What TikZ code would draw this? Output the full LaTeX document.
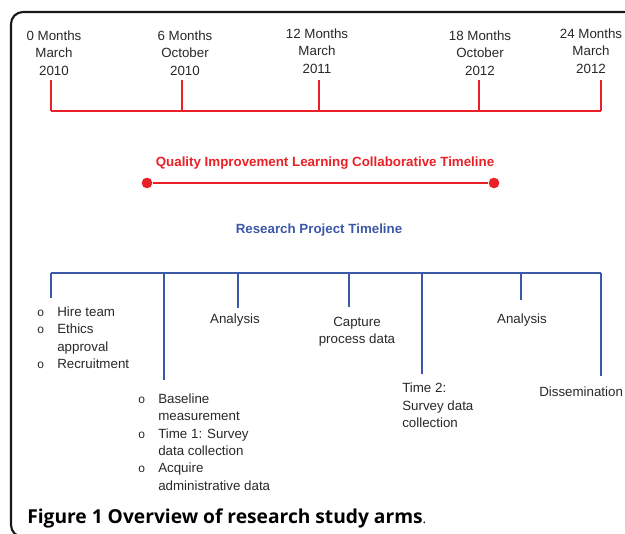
\documentclass[tikz,border=0pt]{standalone}
\usepackage{fontspec}
\setmainfont{Liberation Sans}
\newfontfamily\capfont{Open Sans}
\usepackage{tikz}
\definecolor{qired}{RGB}{234,32,39}
\definecolor{rpblue}{RGB}{60,88,168}
\definecolor{txtgray}{RGB}{40,40,40}

\newcommand{\blt}{{\fontsize{9}{9}\selectfont o}}

\begin{document}
\begin{tikzpicture}[
    x=0.75pt, y=-0.75pt,
    lbl/.style={inner sep=0pt, align=center, text=txtgray, font=\fontsize{10}{13}\selectfont},
    lst/.style={lbl, align=left, anchor=north west},
    redtick/.style={draw=qired, line width=0.9pt},
    bluetick/.style={draw=rpblue, line width=0.9pt},
    ttl/.style={inner sep=0pt, font=\bfseries\fontsize{10}{12}\selectfont},
  ]
    \clip (0,0) rectangle (625,534);
    \draw[black!90, line width=1.6pt, rounded corners=9pt] (11,12) rectangle (660,537);

    % month scale
    \foreach \x/\lx/\ly/\m/\mon/\yr in {51/54/53/0/March/2010, 182/185/53/6/October/2010,
        319/317/51/12/March/2011, 479/480/53/18/October/2012, 601/591/51/24/March/2012} {
      \node[lbl] (m\m) at (\lx,\ly) {\m\ Months\\\mon\\\yr};
      \coordinate (rt\m) at (\x,80);
    }
    \coordinate (rl) at (51,111);
    \coordinate (rr) at (601,111);
    \foreach \m in {0,6,12,18,24} \draw[redtick] (rt\m) -- (rt\m |- rl);
    \draw[qired, line width=1.8pt] (rl) -- (rr);

    % collaborative
    \node[ttl, text=qired] (qilc) at (325,163) {Quality Improvement Learning Collaborative Timeline};
    \node[circle, fill=qired, inner sep=0pt, minimum size=8pt] (qa) at (147,183) {};
    \node[circle, fill=qired, inner sep=0pt, minimum size=8pt] (qb) at (494,183) {};
    \draw[qired, line width=2pt] (qa) -- (qb);

    % research project
    \node[ttl, text=rpblue] (rp) at (319,230) {Research Project Timeline};
    \coordinate (bl) at (51,273);
    \coordinate (br) at (601,273);
    \foreach \n/\x/\y in {a/51/298, b/164/380, c/238/308, d/349/307, e/422/374, f/521/300, g/601/376} {
      \coordinate (bt\n) at (\x,\y);
      \draw[bluetick] (bt\n |- bl) -- (bt\n);
    }
    \draw[rpblue, line width=1.8pt] (bl) -- (br);

    \node[lst] (setup) at (37,304) {%
      \begin{tabular}{@{}p{15pt}@{}l@{}}
        \blt & Hire team\\
        \blt & Ethics\\
             & approval\\
        \blt & Recruitment
      \end{tabular}};
    \node[lst] (base) at (138,391) {%
      \begin{tabular}{@{}p{15pt}@{}l@{}}
        \blt & Baseline\\
             & measurement\\
        \blt & Time 1: Survey\\
             & data collection\\
        \blt & Acquire\\
             & administrative data
      \end{tabular}};
    \node[lbl] (ana1) at (235,320) {Analysis};
    \node[lbl] (cap) at (357,332) {Capture\\process data};
    \node[lst] (t2) at (402,383) {Time 2:\\Survey data\\collection};
    \node[lbl] (ana2) at (522,320) {Analysis};
    \node[lbl, anchor=west] (dis) at (539,392) {Dissemination};

    \node[anchor=base west, inner sep=0pt] (fig) at (27,523)
      {\capfont\fontsize{14.4}{16}\selectfont\textbf{Figure 1 Overview of research study arms}{\fontsize{10}{12}\selectfont.}};
\end{tikzpicture}
\end{document}
